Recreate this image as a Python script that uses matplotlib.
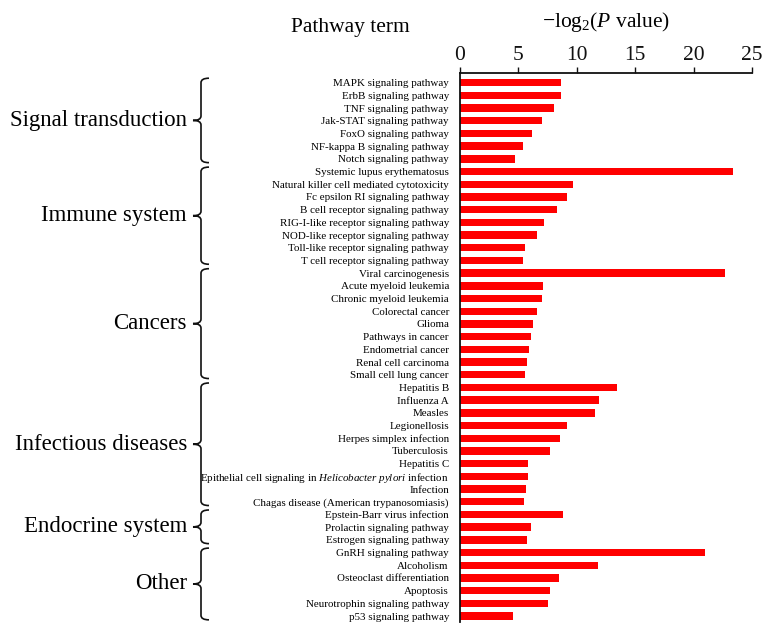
import matplotlib
matplotlib.use("Agg")
import matplotlib.pyplot as plt
from matplotlib.path import Path
from matplotlib.patches import PathPatch
import matplotlib.transforms as mtransforms

plt.rcParams['font.family'] = ['Liberation Serif', 'DejaVu Serif']
plt.rcParams['mathtext.fontset'] = 'custom'
plt.rcParams['mathtext.rm'] = 'Liberation Serif'
plt.rcParams['mathtext.it'] = 'Liberation Serif:italic'

pathways = [
    "MAPK signaling pathway", "ErbB signaling pathway", "TNF signaling pathway",
    "Jak-STAT signaling pathway", "FoxO signaling pathway", "NF-kappa B signaling pathway",
    "Notch signaling pathway",
    "Systemic lupus erythematosus", "Natural killer cell mediated cytotoxicity",
    "Fc epsilon RI signaling pathway", "B cell receptor signaling pathway",
    "RIG-I-like receptor signaling pathway", "NOD-like receptor signaling pathway",
    "Toll-like receptor signaling pathway", "T cell receptor signaling pathway",
    "Viral carcinogenesis", "Acute myeloid leukemia", "Chronic myeloid leukemia",
    "Colorectal cancer", "Glioma", "Pathways in cancer", "Endometrial cancer",
    "Renal cell carcinoma", "Small cell lung cancer",
    "Hepatitis B", "Influenza A", "Measles", "Legionellosis", "Herpes simplex infection",
    "Tuberculosis", "Hepatitis C",
    r"Epithelial cell signaling in $\mathit{Helicobacter\ pylori}$ infection",
    "Infection", "Chagas disease (American trypanosomiasis)",
    "Epstein-Barr virus infection", "Prolactin signaling pathway", "Estrogen signaling pathway",
    "GnRH signaling pathway", "Alcoholism", "Osteoclast differentiation", "Apoptosis",
    "Neurotrophin signaling pathway", "p53 signaling pathway",
]
values = [
    8.68, 8.65, 8.02, 7.0, 6.2, 5.4, 4.74,
    23.4, 9.7, 9.2, 8.33, 7.22, 6.56, 5.6, 5.4,
    22.7, 7.13, 7.0, 6.56, 6.22, 6.05, 5.94, 5.74, 5.54,
    13.4, 11.87, 11.56, 9.14, 8.56, 7.71, 5.8, 5.8, 5.66, 5.49,
    8.8, 6.05, 5.74,
    21.0, 11.8, 8.45, 7.73, 7.56, 4.57,
]
groups = ["Signal transduction", "Immune system", "Cancers",
          "Infectious diseases", "Endocrine system", "Other"]
group_sizes = [7, 8, 9, 10, 3, 6]
xticks = [0, 5, 10, 15, 20, 25]

W, H = 776, 637
fig = plt.figure(figsize=(W / 100, H / 100), dpi=100)
ax = fig.add_axes([460 / W, 1 - 622 / H, (752 - 460) / W, (622 - 73) / H])

y = list(range(len(pathways)))
ax.barh(y, values, height=0.58, color="#ff0000")
ax.set_ylim(len(pathways) - 1 + 0.47, -0.76)
ax.set_xlim(0, 25)
ax.set_yticks(y)
ax.set_yticklabels(pathways, fontsize=7.9)
ax.tick_params(axis='y', length=0, pad=8)
ax.xaxis.tick_top()
ax.set_xticks(xticks)
ax.set_xticklabels([str(t) for t in xticks], fontsize=15.5)
ax.tick_params(axis='x', direction='out', length=4, width=1.0, pad=1.5, colors='#111111')
for s in ["right", "bottom"]:
    ax.spines[s].set_visible(False)
for s in ["left", "top"]:
    ax.spines[s].set_linewidth(1.3)
    ax.spines[s].set_color('#111111')

fig.text(350 / W, 1 - 32 / H, "Pathway term", ha='center', va='baseline', fontsize=15.5)
fig.text(606 / W, 1 - 27 / H, r"$\mathrm{-log}_2(\mathit{P}\ \mathrm{value})$",
         ha='center', va='baseline', fontsize=15.5)

# braces and group labels
trans = mtransforms.blended_transform_factory(fig.transFigure, ax.transData)
x0, xl, xr = 201 / W, 193 / W, 209 / W
start = 0
for name, n in zip(groups, group_sizes):
    t = start - 0.35
    b = start + n - 1 + 0.3
    m = (t + b) / 2
    d = 0.35
    verts = [(xr, t), (x0, t), (x0, t + d),
             (x0, m - d),
             (x0, m), (xl, m),
             (x0, m), (x0, m + d),
             (x0, b - d),
             (x0, b), (xr, b)]
    codes = [Path.MOVETO, Path.CURVE3, Path.CURVE3,
             Path.LINETO,
             Path.CURVE3, Path.CURVE3,
             Path.CURVE3, Path.CURVE3,
             Path.LINETO,
             Path.CURVE3, Path.CURVE3]
    patch = PathPatch(Path(verts, codes), transform=trans, fill=False,
                      lw=1.2, edgecolor='#111111', clip_on=False)
    fig.add_artist(patch)
    fig.text(187 / W, m, name, transform=trans, ha='right', va='center', fontsize=16.5)
    start += n

fig.savefig("out.png", dpi=100)
